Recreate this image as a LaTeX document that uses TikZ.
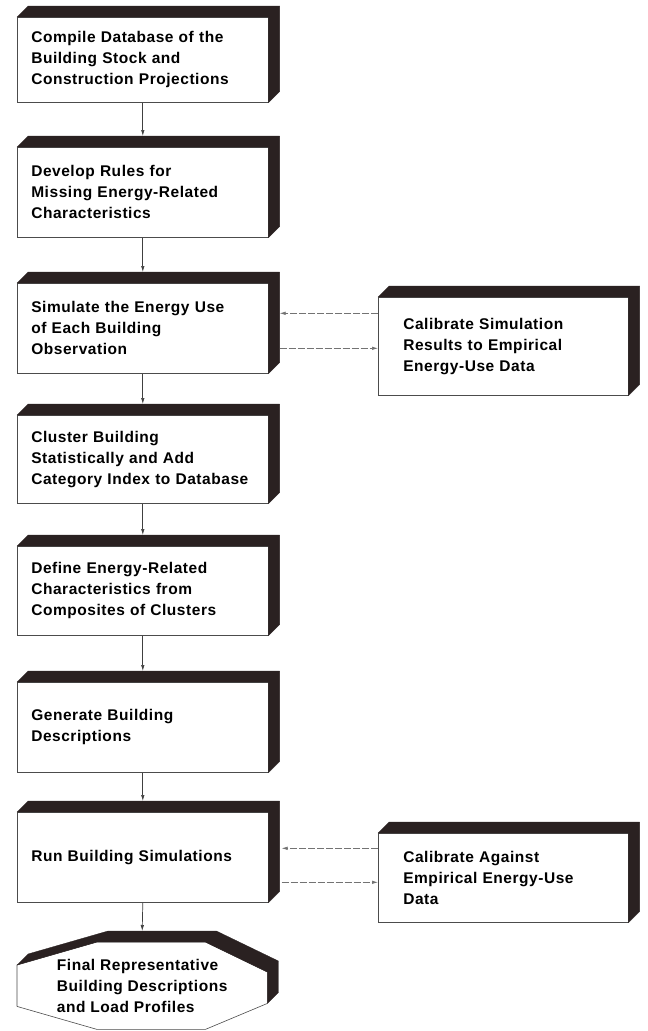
\documentclass[tikz,border=0pt]{standalone}
\usepackage{fontspec}
\setmainfont[LetterSpace=3.5]{Liberation Sans}
\usetikzlibrary{arrows.meta,calc}
\definecolor{bandc}{RGB}{42,33,33}
\tikzset{
  front/.style={draw=black!70, line width=0.6pt, fill=white, rectangle, inner ysep=0pt,
    anchor=north west, font=\fontsize{15.5}{21}\selectfont\bfseries, align=left},
  mainbox/.style={front, inner xsep=14pt, text width=223pt, minimum width=251pt},
  sidebox/.style={front, inner xsep=25pt, text width=200pt, minimum width=250pt},
  band/.style={fill=bandc, draw=bandc, line width=0.3pt, line join=round},
  arr/.style={draw=black!75, line width=0.7pt, -{Latex[length=6pt,width=3.5pt]}},
  sarr/.style={arr, draw=black!55, dash pattern=on 7pt off 2pt},
  octline/.style={draw=black!70, line width=0.6pt, line join=round}
}
\newcommand\xtr[1]{%
  \fill[band] (#1.north west) -- ([shift={(11pt,11pt)}]#1.north west)
    -- ([shift={(11pt,11pt)}]#1.north east) -- ([shift={(11pt,11pt)}]#1.south east)
    -- (#1.south east) -- (#1.north east) -- cycle;}
\begin{document}
\begin{tikzpicture}[x=1pt,y=-1pt]
\fill[white] (0,0) rectangle (648,1031);
\useasboundingbox (0,0) rectangle (648,1031);

\node[mainbox, minimum height=85pt] (b1) at (17,17) {Compile Database of the\\Building Stock and\\Construction Projections};
\node[mainbox, minimum height=90pt] (b2) at (17,147) {Develop Rules for\\Missing Energy-Related\\Characteristics};
\node[mainbox, minimum height=90pt] (b3) at (17,283) {Simulate the Energy Use\\of Each Building\\Observation};
\node[mainbox, minimum height=88pt] (b4) at (17,415) {Cluster Building\\Statistically and Add\\Category Index to Database};
\node[mainbox, minimum height=89pt] (b5) at (17,546) {Define Energy-Related\\Characteristics from\\Composites of Clusters};
\node[mainbox, minimum height=90pt] (b6) at (17,682) {Generate Building\\Descriptions};
\node[mainbox, minimum height=90pt] (b7) at (17,812) {Run Building Simulations};
\node[sidebox, minimum height=98pt] (s1) at (378,297) {Calibrate Simulation\\Results to Empirical\\Energy-Use Data};
\node[sidebox, minimum height=89pt] (s2) at (378,833) {Calibrate Against\\Empirical Energy-Use\\Data};

\foreach \n in {b1,b2,b3,b4,b5,b6,b7,s1,s2} {\xtr{\n}}

% final octagon
\node[font=\fontsize{15.5}{21}\selectfont\bfseries, align=left, anchor=north west,
  inner xsep=0pt, inner ysep=0pt, minimum width=250pt, minimum height=87pt] (fin) at (17,942)
  {Final Representative\\Building Descriptions\\and Load Profiles};
\coordinate (oA) at ($(fin.north west)+(0,-23pt)$);
\coordinate (oB) at ($(fin.north west)+(80pt,0)$);
\coordinate (oC) at ($(fin.north east)+(-62pt,0)$);
\coordinate (oD) at ($(fin.north east)+(0,-30pt)$);
\coordinate (oE) at ($(fin.south east)+(0,26pt)$);
\coordinate (oF) at ($(fin.south east)+(-62pt,0)$);
\coordinate (oG) at ($(fin.south west)+(80pt,0)$);
\coordinate (oH) at ($(fin.south west)+(0,23pt)$);
\draw[octline] (oA) -- (oB) -- (oC) -- (oD) -- (oE) -- (oF) -- (oG) -- (oH) -- cycle;
\fill[band] (oA) -- ([shift={(11pt,11pt)}]oA) -- ([shift={(11pt,11pt)}]oB)
  -- ([shift={(11pt,11pt)}]oC) -- ([shift={(11pt,11pt)}]oD) -- ([shift={(11pt,11pt)}]oE)
  -- (oE) -- (oD) -- (oC) -- (oB) -- cycle;

% vertical arrows
\draw[arr] (b1.south) -- ([yshift=11pt]b2.north);
\draw[arr] (b2.south) -- ([yshift=11pt]b3.north);
\draw[arr] (b3.south) -- ([yshift=11pt]b4.north);
\draw[arr] (b4.south) -- ([yshift=11pt]b5.north);
\draw[arr] (b5.south) -- ([yshift=11pt]b6.north);
\draw[arr] (b6.south) -- ([yshift=11pt]b7.north);
\draw[arr] (b7.south) -- ([yshift=11pt]fin.north);

% side arrows
\coordinate (b3r) at ([xshift=11pt]b3.east);
\coordinate (b7r) at ([xshift=13pt]b7.east);
\coordinate (s1u) at ([yshift=33pt]s1.west);
\coordinate (s1d) at ([yshift=-2pt]s1.west);
\coordinate (s2u) at ([yshift=29.5pt]s2.west);
\coordinate (s2d) at ([yshift=-4.5pt]s2.west);
\draw[sarr] (s1u) -- (s1u -| b3r);
\draw[sarr] (s1d -| b3r) -- (s1d);
\draw[sarr] (s2u) -- (s2u -| b7r);
\draw[sarr] (s2d -| b7r) -- (s2d);
\end{tikzpicture}
\end{document}
